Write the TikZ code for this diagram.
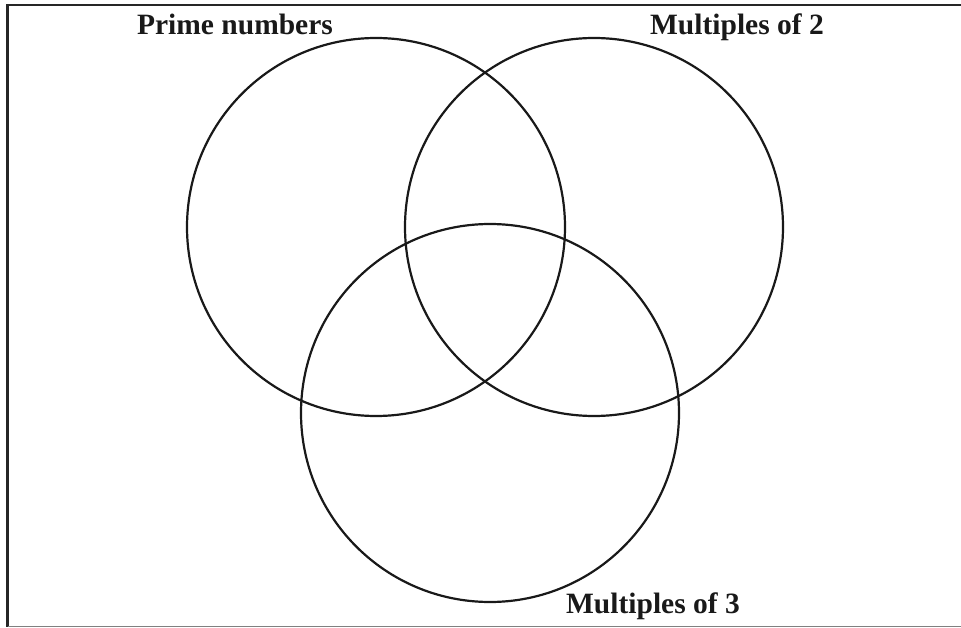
\documentclass[tikz,border=0pt]{standalone}
\usepackage{fontspec}
\setmainfont{Liberation Serif}
\begin{document}
\begin{tikzpicture}[x=1pt,y=-1pt,
  setcircle/.style={circle, draw=black!90, line width=2.2pt, inner sep=0pt, minimum size=378pt},
  setlabel/.style={anchor=base, inner sep=0pt, text=black!90, font=\fontsize{29.5}{30}\selectfont\bfseries}]
\useasboundingbox (0,0) rectangle (961,628);
\draw[line width=2.8pt, black!85] (961,5) -- (7.5,5) -- (7.5,627);
\draw[line width=1.5pt, black!50] (7.5,626.5) -- (961,626.5);
\node[setcircle] (primes) at (376,227) {};
\node[setcircle] (two) at (594,227) {};
\node[setcircle] (three) at (490,413) {};
\node[setlabel] (lp) at (235,35) {Prime numbers};
\node[setlabel] (l2) at (737,35) {Multiples of 2};
\node[setlabel] (l3) at (653,613) {Multiples of 3};
\end{tikzpicture}
\end{document}
